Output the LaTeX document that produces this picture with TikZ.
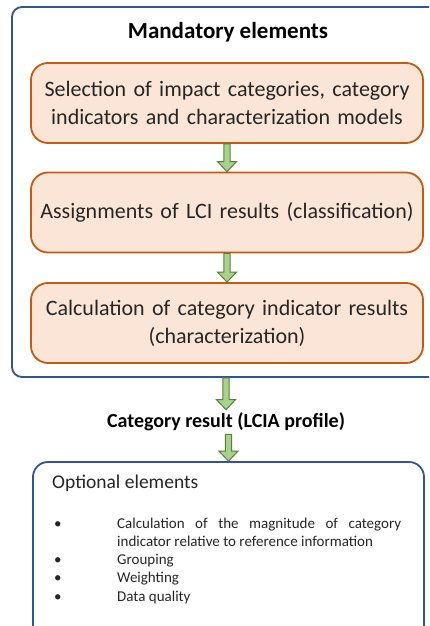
\documentclass[tikz,border=0pt]{standalone}
\usepackage{fontspec}
\setmainfont{Carlito}
\usetikzlibrary{calc}

\definecolor{boxblue}{HTML}{2F5597}
\definecolor{stepline}{HTML}{C55A11}
\definecolor{stepfill}{HTML}{FBE5D6}
\definecolor{arrline}{HTML}{548235}
\definecolor{arrfill}{HTML}{A9D18E}
\definecolor{txt}{HTML}{262626}

\tikzset{
  outerbox/.style={draw=boxblue, line width=1.8pt, rounded corners=10pt},
  stepbox/.style={draw=stepline, fill=stepfill, line width=1.8pt, rounded corners=17pt,
    minimum width=392pt, minimum height=80pt, inner sep=6pt, text width=380pt,
    align=center, text=txt, font=\fontsize{22}{28}\selectfont},
  greenarrow/.style={draw=arrline, fill=arrfill, line width=1pt, line join=miter},
  itemtxt/.style={inner sep=0pt, text=txt, font=\fontsize{15}{18.2}\selectfont},
}

% hollow block arrow from #1 down to #2
\newcommand{\hollowarrow}[2]{%
  \draw[greenarrow] ($(#2.north |- #1.south)+(-3.2,0)$) -- ($(#2.north)+(-3.2,-10)$)
    -- ($(#2.north)+(-9.5,-10)$) -- (#2.north) -- ($(#2.north)+(9.5,-10)$)
    -- ($(#2.north)+(3.2,-10)$) -- ($(#2.north |- #1.south)+(3.2,0)$) -- cycle;}

\begin{document}
\begin{tikzpicture}[x=1pt,y=-1pt]
        \clip (0,0) rectangle (429,626);

        \node[outerbox, minimum width=428pt, minimum height=370pt] (mand) at (226,192) {};
        \node[anchor=base, text=black, font=\fontsize{23}{26}\bfseries] (mtitle) at (228,39) {Mandatory elements};

        \node[stepbox] (sel) at (227,103) {Selection of impact categories, category\\indicators and characterization models};
        \node[stepbox] (assign) at (227,212.5) {Assignments of LCI results (classification)};
        \node[stepbox] (charact) at (227,323) {Calculation of category indicator results\\(characterization)};

        \node[inner ysep=3pt, text=black, font=\fontsize{20}{24}\bfseries] (result) at (226,422) {Category result (LCIA profile)};

        \node[outerbox, rounded corners=15pt, minimum width=391pt, minimum height=178pt] (opt) at (228.5,551) {};
        \node[anchor=base west, inner sep=0pt, text=txt, font=\fontsize{19.5}{22}\selectfont] (otitle) at (52,488) {Optional elements};

        % list of optional elements
        \node[itemtxt, anchor=base west, text width=284pt, align=justify] (it1) at (117,528)
          {Calculation of the magnitude of category\linebreak \mbox{indicator} relative to reference information};
        \foreach \y/\name/\label in {564/it2/Grouping, 582/it3/Weighting, 601/it4/Data quality} {
          \node[itemtxt, anchor=base west] (\name) at (117,\y) {\label};
        }
        \foreach \y/\name in {528/b1, 564/b2, 582/b3, 601/b4} {
          \node[itemtxt, anchor=base west] (\name) at (54,\y) {\textbullet};
        }

        \hollowarrow{sel}{assign}
        \hollowarrow{assign}{charact}
        \hollowarrow{mand}{result}
        \hollowarrow{result}{opt}
\end{tikzpicture}
\end{document}
